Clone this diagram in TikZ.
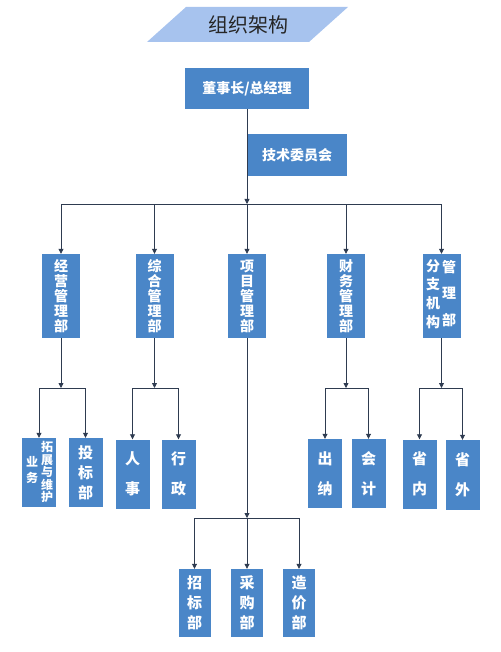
\documentclass[tikz,border=0pt]{standalone}
\usepackage{fontspec}
\newfontfamily\cjk{Noto Sans CJK SC}
\usetikzlibrary{arrows.meta}
\definecolor{boxblue}{HTML}{4A86C8}
\definecolor{titleblue}{HTML}{A7C3EE}
\definecolor{linec}{HTML}{2E3B50}
\begin{document}
\begin{tikzpicture}[x=1pt,y=-1pt,
  box/.style={fill=boxblue, draw=none, inner sep=0pt, text=white, align=center, font=\cjk\bfseries\fontsize{14}{15}\selectfont},
  l2/.style={box, minimum width=38pt, minimum height=84pt},
  l3/.style={box, minimum width=34pt, minimum height=69pt, font=\cjk\bfseries\fontsize{15}{20}\selectfont},
  l3b/.style={l3, font=\cjk\bfseries\fontsize{15}{30}\selectfont},
  l4/.style={l3, minimum width=32pt, minimum height=68pt},
  txt/.style={inner sep=0pt, text=white, align=center},
  conn/.style={draw=linec, line width=0.8pt},
  arr/.style={conn, -{Triangle[width=5pt,length=5pt]}}
]
\useasboundingbox (0,0) rectangle (500,652);
% title
\fill[titleblue] (147,42) -- (186,7) -- (348,7) -- (309,42) -- cycle;
\node[font=\cjk\fontsize{20}{24}\selectfont, text=black!85, inner sep=0pt] (title) at (248,25) {组织架构};
% top
\node[box, minimum width=124pt, minimum height=41pt] (boss) at (247,88.5) {董事长/总经理};
\node[box, minimum width=100pt, minimum height=42pt] (tech) at (297,155) {技术委员会};
% level 2
\node[l2] (jy) at (61,296) {经\\营\\管\\理\\部};
\node[l2] (zh) at (154.5,296) {综\\合\\管\\理\\部};
\node[l2] (xm) at (247,296) {项\\目\\管\\理\\部};
\node[l2] (cw) at (346,296) {财\\务\\管\\理\\部};
\node[l2] (fz) at (441.5,296) {};
\node[txt, font=\cjk\bfseries\fontsize{14}{18.7}\selectfont] (fzl) at (433,294) {分\\支\\机\\构};
\node[txt, font=\cjk\bfseries\fontsize{14}{26.5}\selectfont] (fzr) at (449,293.5) {管\\理\\部};
% level 3
\node[l3] (yw) at (39,472.5) {};
\node[txt, font=\cjk\bfseries\fontsize{12}{16}\selectfont] (ywl) at (32,470) {业\\务};
\node[txt, font=\cjk\bfseries\fontsize{12}{12.5}\selectfont] (ywr) at (47,472) {拓\\展\\与\\维\\护};
\node[l3] (tb) at (85.5,472.5) {投\\标\\部};
\node[l3b] (rs) at (132.5,474) {人\\事};
\node[l3b] (xz) at (178.5,474) {行\\政};
\node[l3b] (cn) at (325,473.5) {出\\纳};
\node[l3b] (kj) at (368.5,473.5) {会\\计};
\node[l3b] (sn) at (419.5,474) {省\\内};
\node[l3b, minimum height=70pt] (sw) at (462.5,475) {省\\外};
% level 4
\node[l4] (zb) at (194.5,603) {招\\标\\部};
\node[l4] (cg) at (247,603) {采\\购\\部};
\node[l4] (zj) at (299,603) {造\\价\\部};
% connectors
\coordinate (bar0) at (247,204);
\draw[arr] (boss.south) -- (bar0);
\foreach \n in {jy,zh,xm,cw,fz} \draw[arr] (bar0) -| (\n.north);
\coordinate (b1) at (61,388);
\draw[arr] (jy.south) -- (b1);
\draw[arr] (b1) -| (yw.north);
\draw[arr] (b1) -| (tb.north);
\coordinate (b2) at (154.5,388);
\draw[arr] (zh.south) -- (b2);
\draw[arr] (b2) -| (rs.north);
\draw[arr] (b2) -| (xz.north);
\coordinate (b3) at (346,388);
\draw[arr] (cw.south) -- (b3);
\draw[arr] (b3) -| (cn.north);
\draw[arr] (b3) -| (kj.north);
\coordinate (b4) at (441.5,388);
\draw[arr] (fz.south) -- (b4);
\draw[arr] (b4) -| (sn.north);
\draw[arr] (b4) -| (sw.north);
\coordinate (b5) at (247,518);
\draw[arr] (xm.south) -- (b5);
\draw[arr] (b5) -| (zb.north);
\draw[arr] (b5) -| (cg.north);
\draw[arr] (b5) -| (zj.north);
\end{tikzpicture}
\end{document}
